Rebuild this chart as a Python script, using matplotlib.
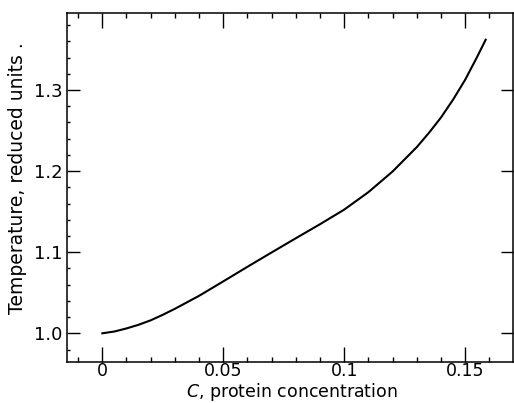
import matplotlib
matplotlib.use("Agg")
import matplotlib.pyplot as plt
import numpy as np

# Data
conc = [0.000, 0.005, 0.010, 0.015, 0.020, 0.025, 0.030, 0.040, 0.050, 0.060,
        0.070, 0.080, 0.090, 0.100, 0.110, 0.120, 0.130, 0.135, 0.140,
        0.145, 0.150, 0.155, 0.1585]
temp = [1.000, 1.0022, 1.0060, 1.0105, 1.0160, 1.0228, 1.0302, 1.0462, 1.0640,
        1.0820, 1.0997, 1.1172, 1.1345, 1.1525, 1.1740, 1.1995, 1.2295,
        1.2470, 1.2660, 1.2880, 1.3125, 1.3410, 1.3620]

x_major = [0, 0.05, 0.1, 0.15]
x_major_labels = ["0", "0.05", "0.1", "0.15"]
y_major = [1.0, 1.1, 1.2, 1.3]
y_major_labels = ["1.0", "1.1", "1.2", "1.3"]

plt.rcParams['font.family'] = ['DejaVu Sans']

fig = plt.figure(figsize=(5.14, 4.03), dpi=100)
ax = fig.add_axes([67/514, 1-362/403, (512.5-67)/514, (362-13)/403])

ax.plot(conc, temp, color='black', lw=1.5)

ax.set_xlim(-0.0146, 0.1696)
ax.set_ylim(0.9646, 1.395)

ax.set_xticks(x_major)
ax.set_xticklabels(x_major_labels)
ax.set_xticks(np.round(np.arange(-0.01, 0.17, 0.01), 3), minor=True)
ax.set_yticks(y_major)
ax.set_yticklabels(y_major_labels)
ax.set_yticks(np.round(np.arange(0.98, 1.39, 0.02), 3), minor=True)

ax.tick_params(axis='x', which='major', direction='in', length=10.5, width=1.0,
               top=True, bottom=True, labelsize=12.5, pad=0.3)
ax.tick_params(axis='x', which='minor', direction='in', length=3.5, width=1.0,
               top=True, bottom=True)
ax.tick_params(axis='y', which='major', direction='in', length=9, width=1.0,
               left=True, right=True, labelsize=13, pad=3)
ax.tick_params(axis='y', which='minor', direction='in', length=2.5, width=1.0,
               left=True, right=False)

for s in ax.spines.values():
    s.set_linewidth(1.1)

fig.text(292/514, 1-397/403, r"$\mathit{C}$, protein concentration",
         ha='center', va='baseline', fontsize=12.5)
fig.text(18/514, 1-178/403, "Temperature, reduced units .", rotation=90,
         ha='center', va='center', fontsize=13.5)

fig.savefig("out.png", dpi=100)
